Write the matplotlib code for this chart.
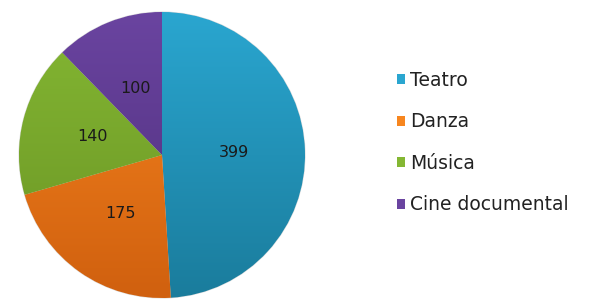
import matplotlib
matplotlib.use("Agg")
import matplotlib.pyplot as plt
import numpy as np
from matplotlib.colors import LinearSegmentedColormap
from matplotlib.patches import Patch

categories = ["Teatro", "Danza", "Música", "Cine documental"]
values = [399, 175, 140, 100]
top_colors = ["#2AA6D0", "#F7861F", "#84B733", "#6A44A0"]
bottom_colors = ["#1A7C9C", "#D0600F", "#6A9424", "#4E2E7A"]

plt.rcParams['font.family'] = ['DejaVu Sans']

fig = plt.figure(figsize=(6.13, 3.03), dpi=100)
ax = fig.add_axes([19/613, 5/303, 286/613, 286/303])

wedges, texts, autotexts = ax.pie(
    values, startangle=90, counterclock=False, radius=1,
    colors=top_colors, autopct=lambda p: f"{int(round(p*sum(values)/100))}",
    pctdistance=0.5, wedgeprops=dict(linewidth=0.8, edgecolor="#dddddd"),
    textprops=dict(fontsize=11.5, color="#1a1a1a"))

for w, tc, bc in zip(wedges, top_colors, bottom_colors):
    cmap = LinearSegmentedColormap.from_list("g", [bc, tc])
    grad = np.linspace(0, 1, 256).reshape(-1, 1)
    im = ax.imshow(grad, extent=[-1, 1, -1, 1], origin="lower", cmap=cmap,
                   aspect="auto", zorder=w.get_zorder() + 0.1)
    im.set_clip_path(w)
for t in autotexts:
    t.set_zorder(5)

ax.set_xlim(-1.0, 1.0)
ax.set_ylim(-1.0, 1.0)
ax.set_aspect("equal")
ax.axis("off")

handles = [Patch(facecolor=c, edgecolor="none") for c in top_colors]
fig.legend(handles, categories, loc="upper left", bbox_to_anchor=(380/613, 1 - 54/303),
           frameon=False, fontsize=13.5, handlelength=0.42, handleheight=0.42,
           handletextpad=0.3, labelspacing=1.2, labelcolor="#222222")

fig.savefig("out.png", dpi=100)
